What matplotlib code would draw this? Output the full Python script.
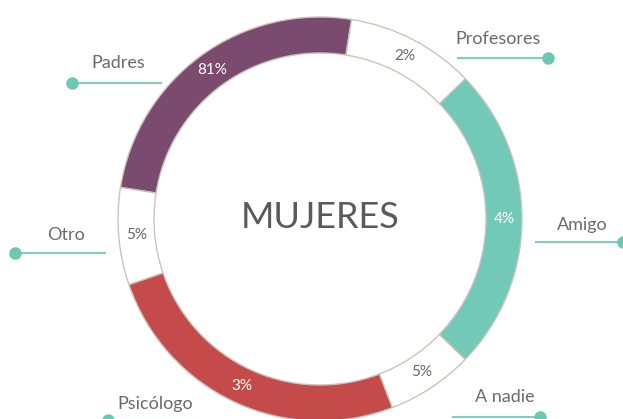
import matplotlib
matplotlib.use("Agg")
import matplotlib.pyplot as plt
import numpy as np

# Data
labels = ["Padres", "Otro", "Psicólogo", "A nadie", "Amigo", "Profesores"]
pct_labels = ["81%", "5%", "3%", "5%", "4%", "2%"]
arc_deg = [90, 28, 92, 25, 88, 37]          # drawn arc sizes (degrees), counter-clockwise from 81°
colors = ["#7b4a6f", "#ffffff", "#c54b4a", "#ffffff", "#72c9b8", "#ffffff"]
pct_colors = ["white", "#666666", "white", "#666666", "white", "#666666"]

plt.rcParams["font.family"] = ["Lato", "DejaVu Sans"]

W, H = 623, 419
fig = plt.figure(figsize=(W / 100, H / 100), dpi=100)
ax = fig.add_axes([0, 0, 1, 1])

cx, cy = 320, H - 219
r_out, ring = 202, 36

wedges, _ = ax.pie(arc_deg, colors=colors, startangle=81, counterclock=True,
                   center=(cx, cy), radius=r_out, frame=True,
                   wedgeprops=dict(width=ring, edgecolor="#cbc3bb", linewidth=1))

# percentage labels in the middle of each arc
r_mid = r_out - ring / 2
for w, t, c in zip(wedges, pct_labels, pct_colors):
    a = np.deg2rad((w.theta1 + w.theta2) / 2)
    ax.text(cx + r_mid * np.cos(a), cy + r_mid * np.sin(a), t, color=c,
            fontsize=11, ha="center", va="center")

# callout labels: (text x, text y, line x0, line x1, line y, dot x)  in pixels
callouts = {
    "Padres":     (118, 63, 72, 162, 83, 72),
    "Profesores": (498, 39, 457, 548, 58, 548),
    "Amigo":      (582, 225, 535, 623, 242, 623),
    "Otro":       (66, 235, 15, 106, 253, 15),
    "A nadie":    (505, 397, 452, 540, 417, 540),
    "Psicólogo":  (155, 404, 108, 200, 420, 108),
}
for name, (tx, ty, x0, x1, ly, dx) in callouts.items():
    ax.text(tx, H - ty, name, fontsize=13, color="#6a6a6a", ha="center",
            va="center")
    ax.plot([x0, x1], [H - ly, H - ly], color="#7fd0bf", lw=1.5, solid_capstyle="butt")
    ax.plot(dx, H - ly, "o", color="#6cc8b3", ms=8, clip_on=True)

ax.text(cx, cy + 1, "MUJERES", fontsize=26, color="#5a5a5a", ha="center",
        va="center")

ax.set_xlim(0, W)
ax.set_ylim(0, H)
ax.set_aspect("auto")
ax.axis("off")

fig.savefig("out.png", dpi=100, facecolor="white")
